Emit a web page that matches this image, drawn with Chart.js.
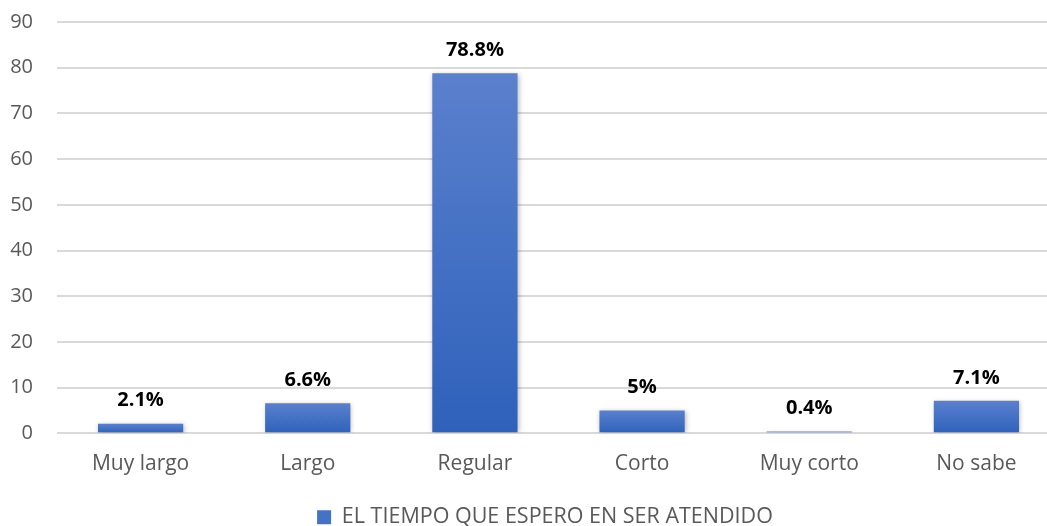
<!DOCTYPE html>
<html>
<head>
<meta charset="utf-8">
<script src="https://cdn.jsdelivr.net/npm/chart.js@4/dist/chart.umd.min.js"></script>
<style>
  html, body { margin: 0; padding: 0; background: #fff; }
  #wrap { width: 1047px; height: 526px; overflow: hidden; }
</style>
</head>
<body>
<div id="wrap"><canvas id="tiempoChart" width="1060" height="526"></canvas></div>
<script>
const categories = ["Muy largo", "Largo", "Regular", "Corto", "Muy corto", "No sabe"];
const values = [2.1, 6.6, 78.8, 5, 0.4, 7.1];
const valueLabels = ["2.1%", "6.6%", "78.8%", "5%", "0.4%", "7.1%"];
const seriesName = "EL TIEMPO QUE ESPERO EN SER ATENDIDO";

const FONT = "'Open Sans', 'Liberation Sans', sans-serif";

// vertical gradient per bar, light on top and dark at the base
const barFill = (c) => {
  const chart = c.chart;
  if (!chart.chartArea || c.dataIndex === undefined) return "#4472c4";
  const y = chart.scales.y;
  const top = y.getPixelForValue(values[c.dataIndex]);
  const base = y.getPixelForValue(0);
  if (base - top < 1) return "#4472c4";
  const g = chart.ctx.createLinearGradient(0, top, 0, base);
  g.addColorStop(0, "#5b80cd");
  g.addColorStop(0.5, "#4471c4");
  g.addColorStop(1, "#2f61bb");
  return g;
};

const barShadow = {
  id: "barShadow",
  beforeDatasetDraw(chart) {
    const ctx = chart.ctx;
    ctx.save();
    ctx.shadowColor = "rgba(0,0,0,0.28)";
    ctx.shadowBlur = 5;
    ctx.shadowOffsetX = 1;
    ctx.shadowOffsetY = 1;
  },
  afterDatasetDraw(chart) {
    chart.ctx.restore();
  }
};

const topLabels = {
  id: "topLabels",
  afterDatasetsDraw(chart) {
    const ctx = chart.ctx;
    const meta = chart.getDatasetMeta(0);
    ctx.save();
    ctx.font = "bold 20px " + FONT;
    ctx.fillStyle = "#000";
    ctx.textAlign = "center";
    ctx.textBaseline = "middle";
    meta.data.forEach((bar, i) => {
      ctx.fillText(valueLabels[i], bar.x, bar.y - 23);
    });
    ctx.restore();
  }
};

// legend sits a bit right of the canvas centre
const legendShift = {
  id: "legendShift",
  afterLayout(chart) {
    chart.legend.left += 15;
    chart.legend.right += 15;
  }
};

new Chart(document.getElementById("tiempoChart"), {
  type: "bar",
  data: {
    labels: categories,
    datasets: [{
      label: seriesName,
      data: values,
      backgroundColor: barFill,
      borderWidth: 0,
      categoryPercentage: 1,
      barPercentage: 0.51
    }]
  },
  options: {
    responsive: false,
    animation: false,
    layout: { padding: { top: 22, right: 0, left: 0, bottom: -12 } },
    plugins: {
      legend: {
        position: "bottom",
        labels: {
          font: { family: FONT, size: 21.5 },
          color: "#595959",
          boxWidth: 14,
          boxHeight: 14,
          padding: 2,
          generateLabels: () => [{
            text: seriesName,
            fillStyle: "#4472c4",
            strokeStyle: "#4472c4",
            lineWidth: 0,
            fontColor: "#595959"
          }]
        }
      },
      tooltip: { enabled: false }
    },
    scales: {
      x: {
        afterFit: (axis) => { axis.height += 10; },
        grid: { display: false, drawTicks: false },
        border: { display: false },
        ticks: { font: { family: FONT, size: 21 }, color: "#595959", padding: 18 }
      },
      y: {
        min: 0,
        max: 90,
        afterFit: (axis) => {
          axis.width = 57;
          axis.paddingTop = 0;
          axis.paddingBottom = 0;
        },
        ticks: { stepSize: 10, font: { family: FONT, size: 20 }, color: "#595959", padding: 24 },
        grid: { color: "#d9d9d9", lineWidth: 2, drawTicks: false },
        border: { display: false }
      }
    }
  },
  plugins: [barShadow, topLabels, legendShift]
});
</script>
</body>
</html>
